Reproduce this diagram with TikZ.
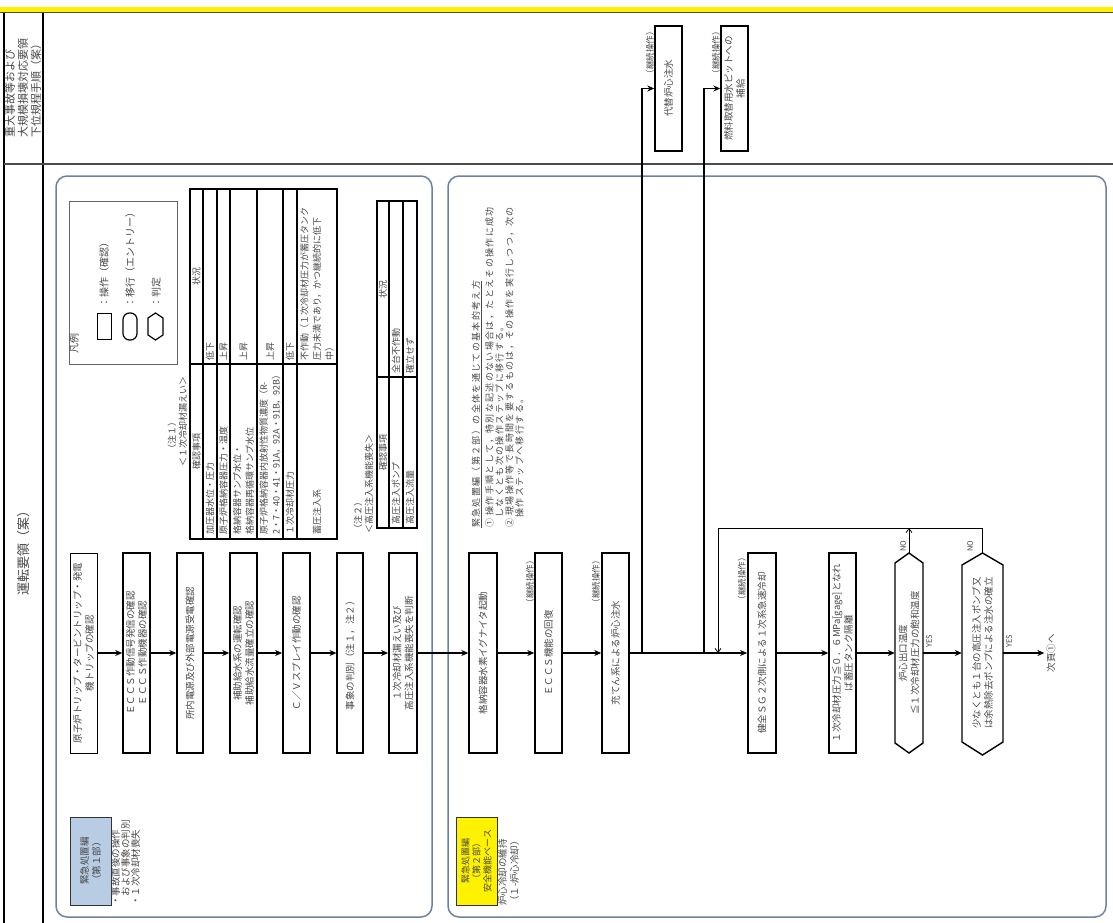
\documentclass[tikz,border=0pt]{standalone}
\usepackage{fontspec}
\setmainfont{Noto Sans CJK JP}
\usetikzlibrary{arrows.meta,calc}
\definecolor{frameblue}{HTML}{6E82A0}
\definecolor{lblue}{HTML}{B8CCE4}
\definecolor{txt}{gray}{0.28}
\newcommand\jfB{\fontsize{9.5}{12}\selectfont}
\newcommand\jfTb{\fontsize{9}{12.5}\selectfont}
\newcommand\jfN{\fontsize{9}{10}\selectfont\addfontfeature{LetterSpace=15}}
\newcommand\jfS{\fontsize{8.5}{10}\selectfont}
\newcommand\jfL{\fontsize{10}{12}\selectfont}
\newcommand\jfH{\fontsize{11}{13}\selectfont}
\newcommand\jfT{\fontsize{13}{15}\selectfont}
\begin{document}
\begin{tikzpicture}[x=1pt,y=-1pt,
  every node/.style={text=txt},
  rtxt/.style={rotate=90, inner sep=0pt},
  flowbox/.style={draw=black, line width=1.4pt, rotate=90, minimum width=200pt,
    minimum height=27pt, inner sep=1pt, align=center, font=\jfB},
  arr/.style={line width=1.6pt, -{Stealth[length=7pt,width=6pt]}},
  fbarr/.style={line width=0.8pt, -{Straight Barb[length=4pt,width=6pt]}},
  tline/.style={line width=1.3pt},
  touter/.style={line width=1.8pt},
  panel/.style={draw=frameblue, line width=1.5pt, rounded corners=11pt}]
\useasboundingbox (0,0) rectangle (1113,923);
% ---------- frame ----------
\fill[yellow] (0,7) rectangle (1113,12);
\draw[line width=1pt, black!70] (0,12.5) -- (1113,12.5);
\draw[line width=2pt] (4,13) -- (4,923);
\draw[line width=2.5pt] (43,13) -- (43,923);
\draw[line width=1.5pt, black!70] (4,164) -- (1113,164);
\node[rtxt, anchor=west, align=left, font=\jfH] (hdr) at (23,138)
  {重大事故等および\\大規模損壊対応要領\\下位規程手順（案）};
\node[rtxt, font=\jfT] (title) at (24,550) {運転要領（案）};
% ---------- panels ----------
\draw[panel] (56,176) rectangle (432,917);
\draw[panel] (448,176) rectangle (1106,917);
% ---------- legend ----------
\draw[black!60, line width=1pt] (69,201) rectangle (177,364);
\node[rtxt, anchor=west, font=\jfL] (lgt) at (74,354) {凡例};
\node[draw=black, line width=1pt, rotate=90, minimum width=26pt, minimum height=14pt, inner sep=0pt] (lg1) at (104,326) {};
\node[draw=black, line width=1.2pt, rotate=90, minimum width=27pt, minimum height=14pt, inner sep=0pt, rounded corners=6.5pt] (lg2) at (130,326.5) {};
\draw[line width=1.2pt] (148,318) -- (155.5,313) -- (163,318) -- (163,335) -- (155.5,340) -- (148,335) -- cycle;
\node[rtxt, anchor=west, font=\jfL] (lg1t) at (104,308) {：操作（確認）};
\node[rtxt, anchor=west, font=\jfL] (lg2t) at (130,308) {：移行（エントリー）};
\node[rtxt, anchor=west, font=\jfL] (lg3t) at (156,308) {：判定};
% ---------- table 1 ----------
\node[rtxt, anchor=west, font=\jfTb] (n1a) at (172,454) {（注１）};
\node[rtxt, anchor=west, font=\jfTb] (n1b) at (183,467) {＜１次冷却材漏えい＞};
\draw[touter] (190,189) rectangle (337,539);
\draw[tline] (190,364) -- (337,364);
\foreach \x in {203,217,230,257,283,297} \draw[tline] (\x,189) -- (\x,539);
\node[rtxt, font=\jfTb] (t1h1) at (196.5,451) {確認事項};
\node[rtxt, font=\jfTb] (t1h2) at (196.5,276) {状況};
\node[rtxt, anchor=west, align=left, font=\jfTb] (t1a2) at (210,535) {加圧器水位・圧力};
\node[rtxt, anchor=west, align=left, font=\jfTb] (t1a3) at (223.5,535) {原子炉格納容器圧力・温度};
\node[rtxt, anchor=west, align=left, font=\jfTb] (t1a4) at (243.5,535) {格納容器サンプ水位・\\格納容器再循環サンプ水位};
\node[rtxt, anchor=west, align=left, font=\jfTb] (t1a5) at (270,535) {原子炉格納容器内放射性物質濃度（R-\\2・7・40・41・91A，92A・91B，92B）};
\node[rtxt, anchor=west, align=left, font=\jfTb] (t1a6) at (290,535) {１次冷却材圧力};
\node[rtxt, anchor=west, align=left, font=\jfTb] (t1a7) at (317,535) {蓄圧注入系};
\node[rtxt, anchor=west, align=left, font=\jfTb] (t1b2) at (210,361) {低下};
\node[rtxt, anchor=west, align=left, font=\jfTb] (t1b3) at (223.5,361) {上昇};
\node[rtxt, anchor=west, align=left, font=\jfTb] (t1b4) at (243.5,361) {上昇};
\node[rtxt, anchor=west, align=left, font=\jfTb] (t1b5) at (270,361) {上昇};
\node[rtxt, anchor=west, align=left, font=\jfTb] (t1b6) at (290,361) {低下};
\node[rtxt, anchor=west, align=left, font=\jfTb] (t1b7) at (317,361) {不作動（１次冷却材圧力が蓄圧タンク\\圧力未満であり，かつ継続的に低下\\中）};
% ---------- table 2 ----------
\node[rtxt, anchor=west, font=\jfTb] (n2a) at (358,534) {（注２）};
\node[rtxt, anchor=west, font=\jfTb] (n2b) at (369,534) {＜高圧注入系機能喪失＞};
\draw[touter] (377,201) rectangle (417,528);
\draw[tline] (377,377) -- (417,377);
\foreach \x in {389,403} \draw[tline] (\x,201) -- (\x,528);
\node[rtxt, font=\jfTb] (t2h1) at (383,452) {確認事項};
\node[rtxt, font=\jfTb] (t2h2) at (383,289) {状況};
\node[rtxt, anchor=west, font=\jfTb] (t2a2) at (396,525) {高圧注入ポンプ};
\node[rtxt, anchor=west, font=\jfTb] (t2a3) at (410,525) {高圧注入流量};
\node[rtxt, anchor=west, font=\jfTb] (t2b2) at (396,374) {全台不作動};
\node[rtxt, anchor=west, font=\jfTb] (t2b3) at (410,374) {確立せず};
% ---------- section labels ----------
\node[draw=black!80, fill=lblue, line width=1pt, rotate=90, minimum width=88pt, minimum height=41pt, align=center, font=\jfB] (sec1) at (90.5,861) {緊急処置編\\（第１部）};
\node[rtxt, anchor=north west, align=left, font=\fontsize{9.5}{10}\selectfont] (sec1t) at (111,906) {・事故直後の操作\\　および事象の判別\\・１次冷却材喪失};
\node[draw=black!80, fill=yellow, line width=1pt, rotate=90, minimum width=88pt, minimum height=41pt, align=center, font=\fontsize{9}{11}\selectfont] (sec2) at (476.5,861) {緊急処置編\\（第２部）\\安全機能ベース};
\node[rtxt, anchor=north west, align=left, font=\fontsize{9.5}{12}\selectfont] (sec2t) at (498,906) {炉心冷却の維持\\（１-炉心冷却）};
% ---------- notes ----------
\node[rtxt, anchor=west, font=\jfN] (ntitle) at (477,528) {\underline{緊急処置編（第２部）の全体を通じての基本的考え方}};
\node[rtxt, anchor=north west, align=left, font=\jfN] (notes) at (485,528)
  {① 操作手順として，特別な記述のない場合は，たとえその操作に成功\\
   　しなくとも次の操作ステップに移行する。\\
   ② 現場操作等で長時間を要するものは，その操作を実行しつつ，次の\\
   　操作ステップへ移行する。};
% ---------- flow boxes ----------
\node[flowbox, line width=1pt] (b1) at (83.5,653) {原子炉トリップ・タービントリップ・発電\\機トリップの確認};
\node[flowbox, line width=1.6pt] (b2) at (136.5,653) {ＥＣＣＳ作動信号発信の確認\\ＥＣＣＳ作動機器の確認};
\node[flowbox, minimum height=26pt] (b3) at (190,653) {所内電源及び外部電源受電確認};
\node[flowbox] (b4) at (243.5,653) {補助給水系の運転確認\\補助給水流量確立の確認};
\node[flowbox, line width=1.8pt] (b5) at (296.5,653) {Ｃ／Ｖスプレイ作動の確認};
\node[flowbox, minimum height=26pt, line width=1.1pt] (b6) at (350,653) {事象の判別（注１，注２）};
\node[flowbox, minimum height=28pt, line width=1.8pt] (b7) at (403,653) {１次冷却材漏えい及び\\高圧注入系機能喪失を判断};
\node[flowbox, minimum height=28pt] (b8) at (483,653) {格納容器水素イグナイタ起動};
\node[flowbox] (b9) at (548.5,653) {ＥＣＣＳ機能の回復};
\node[flowbox] (b10) at (615.5,653) {充てん系による炉心注水};
\node[flowbox, minimum height=28pt, line width=1.8pt] (b11) at (762,653) {健全ＳＧ２次側による１次系急速冷却};
\node[flowbox] (b12) at (842.5,653) {１次冷却材圧力≦０．６MPa[gage]となれ\\ば蓄圧タンク隔離};
% hexagons
\node[rotate=90, minimum width=180pt, minimum height=28pt, inner sep=1pt, align=center, font=\jfB] (h1) at (909,653) {炉心出口温度\\≦１次冷却材圧力の飽和温度};
\draw[line width=1.4pt] (895,563) -- (909,553) -- (923,563) -- (923,743) -- (909,753) -- (895,743) -- cycle;
\node[rotate=90, minimum width=180pt, minimum height=41pt, inner sep=1pt, align=center, font=\jfB] (h2) at (982.5,653) {少なくとも１台の高圧注入ポンプ又\\は余熱除去ポンプによる注水の確立};
\draw[line width=1.4pt] (962,565) -- (982.5,553) -- (1003,565) -- (1003,742) -- (982.5,755) -- (962,742) -- cycle;
\coordinate (h1top) at (909,553);
\coordinate (h2top) at (982.5,553);
\node[rtxt, inner sep=2pt, font=\jfB] (next) at (1051,653) {次頁①へ};
% top boxes
\node[flowbox, minimum width=125pt] (T1) at (668.5,88.5) {代替炉心注水};
\node[flowbox, minimum width=125pt] (T2) at (734.5,88.5) {燃料取替用水ピットへの\\補給};
% continuing-operation labels
\node[rtxt, anchor=east, font=\jfS] (k1) at (650,27) {（継続操作）};
\node[rtxt, anchor=east, font=\jfS] (k2) at (716,27) {（継続操作）};
\node[rtxt, anchor=east, font=\jfS] (k3) at (530,556) {（継続操作）};
\node[rtxt, anchor=east, font=\jfS] (k4) at (596,556) {（継続操作）};
\node[rtxt, anchor=east, font=\jfS] (k5) at (742,553) {（継続操作）};
% YES / NO
\node[rtxt, font=\fontsize{7.5}{9}\selectfont] (y1) at (929,641) {YES};
\node[rtxt, font=\fontsize{7.5}{9}\selectfont] (y2) at (1009,641) {YES};
\node[rtxt, font=\fontsize{7.5}{9}\selectfont] (no1) at (903,546) {NO};
\node[rtxt, font=\fontsize{7.5}{9}\selectfont] (no2) at (970,546) {NO};
% ---------- connectors ----------
\draw[arr] (b1) -- (b2);
\draw[arr] (b2) -- (b3);
\draw[arr] (b3) -- (b4);
\draw[arr] (b4) -- (b5);
\draw[arr] (b5) -- (b6);
\draw[arr] (b6) -- (b7);
\draw[arr] (b7) -- (b8);
\draw[arr] (b8) -- (b9);
\draw[arr] (b9) -- (b10);
\draw[arr] (b10) -- (b11);
\draw[arr] (b11) -- (b12);
\draw[arr] (b12) -- (h1);
\draw[arr] (h1) -- (h2);
\draw[arr] (h2) -- (next);
\coordinate (j1) at (642,653);
\coordinate (j2) at (704,653);
\coordinate (j3) at (718,653);
\coordinate (fbm) at (909,528);
\draw[arr] (j1) |- (T1.north);
\draw[arr] (j2) |- (T2.north);
\draw[fbarr] (h2top) -- ++(0,-25) -| (j3);
\draw[fbarr] (h1top) -- (fbm);
\end{tikzpicture}
\end{document}
